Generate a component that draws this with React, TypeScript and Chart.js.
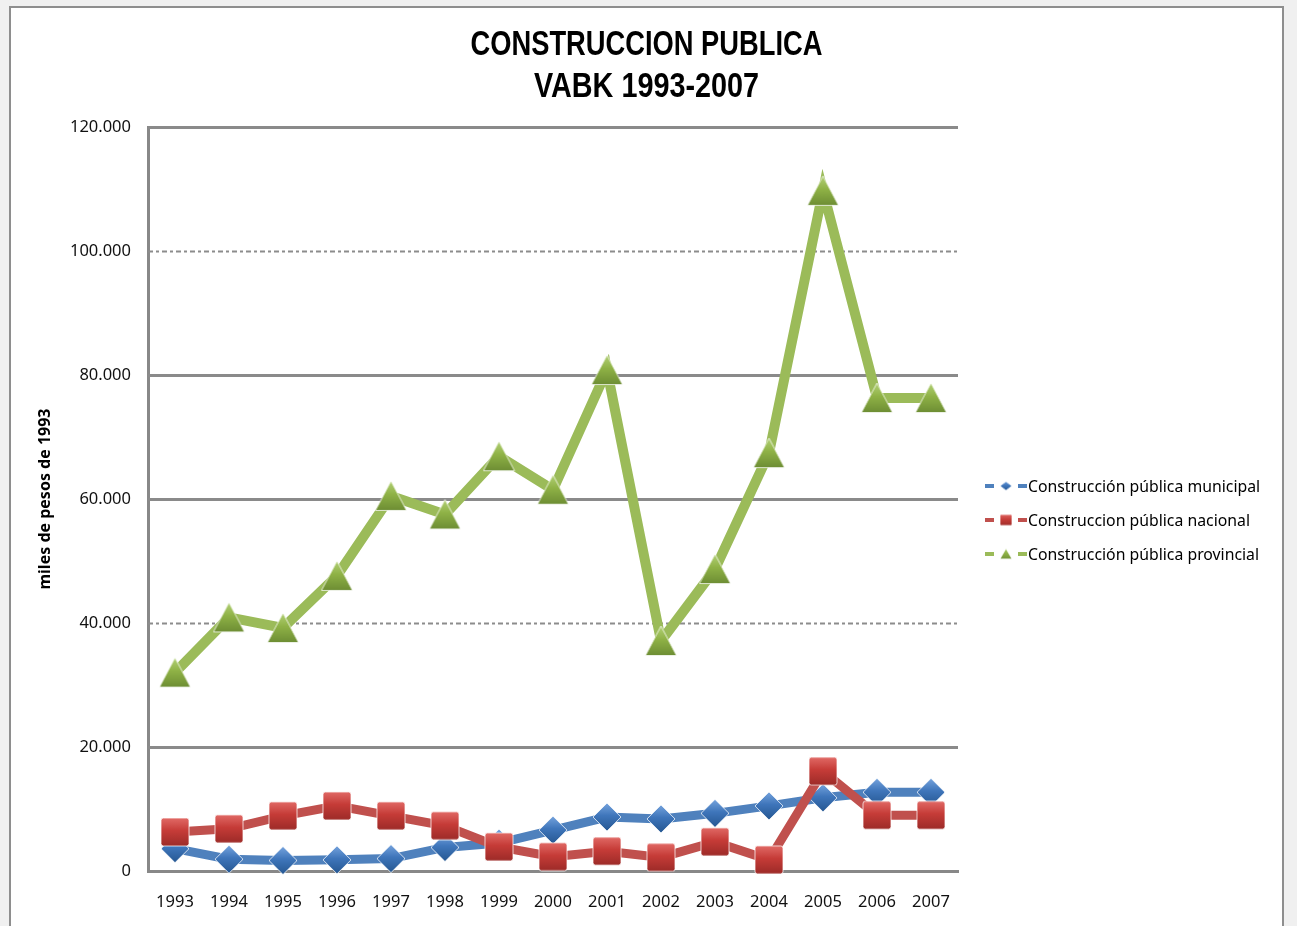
import React, { useEffect, useRef } from 'react';
import { Chart, registerables } from 'chart.js';

Chart.register(...registerables);

// ---- data ----
const years = ['1993', '1994', '1995', '1996', '1997', '1998', '1999', '2000', '2001', '2002', '2003', '2004', '2005', '2006', '2007'];
const municipal = [3600, 1900, 1700, 1800, 2000, 3800, 4500, 6600, 8700, 8400, 9300, 10500, 11800, 12700, 12700];
const nacional = [6300, 6800, 8900, 10500, 8900, 7300, 3900, 2300, 3200, 2200, 4700, 1800, 16100, 9000, 9000];
const provincial = [32000, 40900, 39200, 47600, 60500, 57500, 66900, 61500, 80800, 37100, 48700, 67400, 109700, 76300, 76300];
const seriesNames = ['Construcción pública municipal', 'Construccion pública nacional', 'Construcción pública provincial'];
const titleLines = ['CONSTRUCCION PUBLICA', 'VABK 1993-2007'];
const yAxisTitle = 'miles de pesos de 1993';
const yTicks = [0, 20000, 40000, 60000, 80000, 100000, 120000];

const fmt = (v: number) => String(v).replace(/\B(?=(\d{3})+(?!\d))/g, '.');

const BLUE = '#4f81bd';
const RED = '#c0504d';
const GREEN = '#9bbb59';

function makeMarker(shape: string, w: number, h: number, c1: string, c2: string, c3: string) {
  const c = document.createElement('canvas');
  c.width = w;
  c.height = h;
  const ctx = c.getContext('2d') as CanvasRenderingContext2D;
  const g = ctx.createLinearGradient(0, 0, 0, h);
  g.addColorStop(0, c1);
  g.addColorStop(0.45, c2);
  g.addColorStop(1, c3);
  ctx.fillStyle = g;
  ctx.beginPath();
  if (shape === 'triangle') {
    ctx.moveTo(w / 2, 1);
    ctx.lineTo(w - 1, h - 1.5);
    ctx.lineTo(1, h - 1.5);
    ctx.closePath();
  } else if (shape === 'square') {
    const r = Math.max(1, w * 0.08);
    ctx.moveTo(1 + r, 1);
    ctx.lineTo(w - 1 - r, 1);
    ctx.quadraticCurveTo(w - 1, 1, w - 1, 1 + r);
    ctx.lineTo(w - 1, h - 1 - r);
    ctx.quadraticCurveTo(w - 1, h - 1, w - 1 - r, h - 1);
    ctx.lineTo(1 + r, h - 1);
    ctx.quadraticCurveTo(1, h - 1, 1, h - 1 - r);
    ctx.lineTo(1, 1 + r);
    ctx.quadraticCurveTo(1, 1, 1 + r, 1);
    ctx.closePath();
  } else {
    ctx.moveTo(w / 2, 1);
    ctx.lineTo(w - 1, h / 2);
    ctx.lineTo(w / 2, h - 1);
    ctx.lineTo(1, h / 2);
    ctx.closePath();
  }
  ctx.fill();
  ctx.strokeStyle = 'rgba(255,255,255,0.75)';
  ctx.lineWidth = 1;
  ctx.stroke();
  return c;
}

function makeLegendIcon(color: string, marker: HTMLCanvasElement) {
  const w = 42;
  const h = 16;
  const c = document.createElement('canvas');
  c.width = w;
  c.height = h;
  const ctx = c.getContext('2d') as CanvasRenderingContext2D;
  ctx.fillStyle = color;
  ctx.fillRect(0, h / 2 - 2, 9, 4);
  ctx.fillRect(w - 9, h / 2 - 2, 9, 4);
  ctx.drawImage(marker, (w - marker.width) / 2, (h - marker.height) / 2);
  return c;
}

export default function App() {
  const ref = useRef<HTMLCanvasElement | null>(null);

  useEffect(() => {
    if (!ref.current) return;
    const diamond = makeMarker('diamond', 30, 30, '#7aa7e0', '#3f76bb', '#24558f');
    const square = makeMarker('square', 30, 30, '#e36d69', '#c63c38', '#9a2a27');
    const triangle = makeMarker('triangle', 33, 32, '#b5d37a', '#8fb246', '#6a8a32');
    const legendMarkers = [
      makeLegendIcon(BLUE, makeMarker('diamond', 14, 11, '#7aa7e0', '#3f76bb', '#24558f')),
      makeLegendIcon(RED, makeMarker('square', 14, 13, '#e36d69', '#c63c38', '#9a2a27')),
      makeLegendIcon(GREEN, makeMarker('triangle', 14, 13, '#b5d37a', '#8fb246', '#6a8a32')),
    ];

    const gridPlugin = {
      id: 'customGrid',
      beforeDatasetsDraw(chart: any) {
        const { ctx, chartArea, scales } = chart;
        const ys = scales.y;
        const dotted = [40000, 100000];
        ctx.save();
        for (const v of yTicks) {
          if (v === 0) continue;
          const py = Math.round(ys.getPixelForValue(v));
          ctx.beginPath();
          if (dotted.includes(v)) {
            ctx.setLineDash([5, 3, 3, 3]);
            ctx.lineWidth = 2;
            ctx.strokeStyle = '#8c8c8c';
          } else {
            ctx.setLineDash([]);
            ctx.lineWidth = 3;
            ctx.strokeStyle = '#8a8a8a';
          }
          ctx.moveTo(chartArea.left, py + 0.5);
          ctx.lineTo(chartArea.right, py + 0.5);
          ctx.stroke();
        }
        ctx.restore();
      },
    };

    const titlePlugin = {
      id: 'condensedTitle',
      afterDraw(chart: any) {
        const { ctx, width } = chart;
        ctx.save();
        ctx.font = 'bold 35px "Liberation Sans", Arial, sans-serif';
        ctx.fillStyle = '#000';
        ctx.textAlign = 'center';
        ctx.textBaseline = 'alphabetic';
        const targetWidths = [352, 225];
        const baselines = [47, 89];
        titleLines.forEach((t, i) => {
          const sx = targetWidths[i] / ctx.measureText(t).width;
          ctx.save();
          ctx.translate(width / 2, baselines[i]);
          ctx.scale(sx, 1);
          ctx.fillText(t, 0, 0);
          ctx.restore();
        });
        ctx.restore();
      },
    };

    const legendPlugin = {
      id: 'customLegend',
      afterDraw(chart: any) {
        const { ctx, chartArea } = chart;
        ctx.save();
        ctx.font = '15.8px "Noto Sans", sans-serif';
        ctx.fillStyle = '#000';
        ctx.textBaseline = 'middle';
        ctx.textAlign = 'left';
        const x0 = chartArea.right + 27;
        const yc = (chartArea.top + chartArea.bottom) / 2 + 21;
        seriesNames.forEach((name, i) => {
          const y = yc + (i - 1) * 34;
          const icon = legendMarkers[i];
          ctx.drawImage(icon, x0, Math.round(y - icon.height / 2));
          ctx.fillText(name, x0 + 43, y + 1);
        });
        ctx.restore();
      },
    };

    const chart = new Chart(ref.current, {
      type: 'line',
      data: {
        labels: years,
        datasets: [
          {
            label: seriesNames[0],
            data: municipal,
            borderColor: BLUE,
            backgroundColor: BLUE,
            borderWidth: 9,
            pointStyle: diamond as any,
            pointRadius: 15,
            order: 1,
            clip: false as any,
          },
          {
            label: seriesNames[1],
            data: nacional,
            borderColor: RED,
            backgroundColor: RED,
            borderWidth: 9,
            pointStyle: square as any,
            pointRadius: 15,
            order: 0,
            clip: false as any,
          },
          {
            label: seriesNames[2],
            data: provincial,
            borderColor: GREEN,
            backgroundColor: GREEN,
            borderWidth: 10,
            pointStyle: triangle as any,
            pointRadius: 16,
            order: 2,
            clip: false as any,
          },
        ],
      },
      options: {
        responsive: false,
        animation: false,
        events: [],
        layout: { padding: { top: 119, left: 0, right: 0, bottom: 0 } },
        plugins: {
          legend: { display: false },
          tooltip: { enabled: false },
          title: { display: false },
        },
        scales: {
          x: {
            type: 'category',
            offset: true,
            grid: { display: false, drawTicks: false },
            border: { display: true, color: '#888888', width: 3 },
            ticks: { color: '#111', font: { family: '"Noto Sans", sans-serif', size: 16.5 }, padding: 21, maxRotation: 0 },
            afterFit: (s: any) => { s.height = 55; },
          },
          y: {
            type: 'linear',
            position: 'left',
            min: 0,
            max: 120000,
            grid: { display: false, drawTicks: false },
            border: { display: true, color: '#888888', width: 3 },
            ticks: {
              stepSize: 20000,
              color: '#111',
              padding: 17,
              font: { family: '"Noto Sans", sans-serif', size: 16.5 },
              callback: (v: any) => fmt(Number(v)),
            },
            title: {
              display: true,
              text: yAxisTitle,
              color: '#000',
              font: { family: '"Noto Sans", sans-serif', size: 16, weight: 'bold', lineHeight: 1.2 },
              padding: { top: 25, bottom: 4 },
            },
            afterFit: (s: any) => { s.width = 137; },
          },
          yRight: {
            type: 'linear',
            position: 'right',
            display: true,
            grid: { display: false, drawTicks: false },
            border: { display: false },
            ticks: { display: false },
            afterFit: (s: any) => { s.width = 324; },
          },
        },
      },
      plugins: [gridPlugin, legendPlugin, titlePlugin],
    } as any);
    return () => chart.destroy();
  }, []);

  return (
    <div style={{ position: 'absolute', left: 0, top: 0, width: 1297, height: 926, background: '#f0f0f0', overflow: 'hidden' }}>
      <div style={{ position: 'absolute', left: 9, top: 6, width: 1271, height: 940, border: '2px solid #8e8e8e', background: '#ffffff' }}>
        <canvas ref={ref} width={1271} height={918} style={{ display: 'block', width: 1271, height: 918 }} />
      </div>
    </div>
  );
}
